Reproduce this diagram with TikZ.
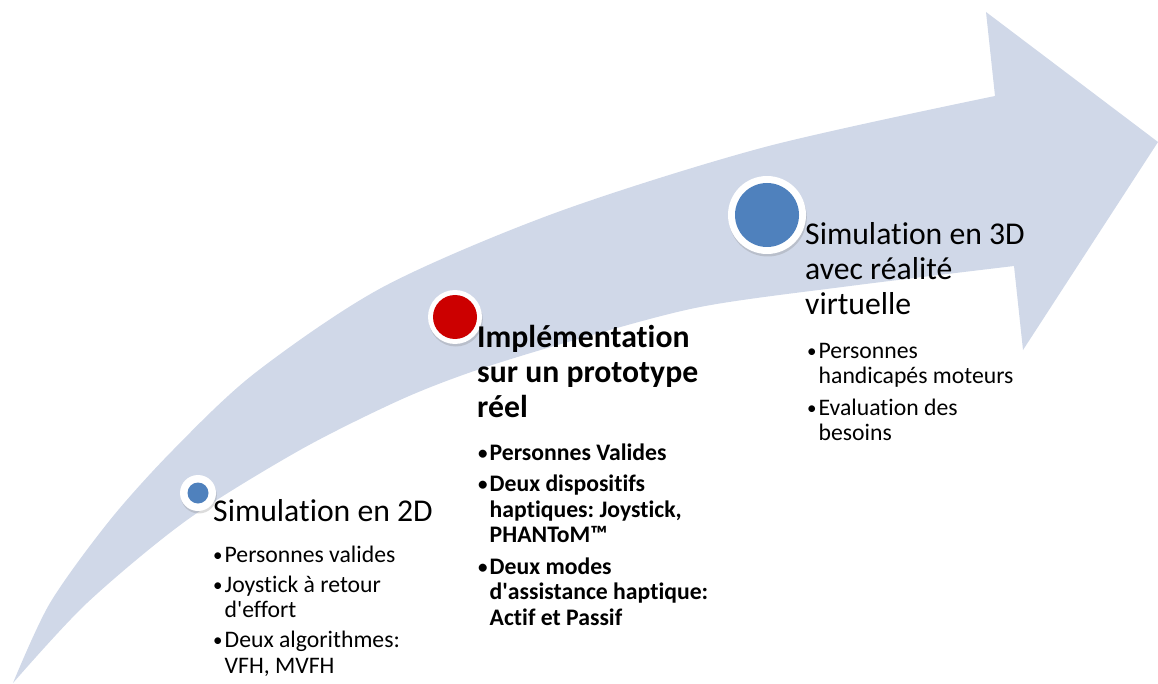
\documentclass[tikz,border=0pt]{standalone}
\usepackage{fontspec}
\setmainfont{Carlito}[Ligatures=NoCommon]
\usetikzlibrary{shadows}
\definecolor{arrowfill}{RGB}{208,216,232}
\definecolor{dotblue}{RGB}{79,129,189}
\definecolor{dotred}{RGB}{204,0,0}
\newcommand{\bul}{\makebox[11.5pt][l]{\raisebox{0.6pt}{\scalebox{0.8}{•}}}}
\newcommand{\apos}{\textquotesingle}
\frenchspacing
\begin{document}
\begin{tikzpicture}[x=1pt,y=-1pt,
  ring/.style={circle, fill=white, inner sep=0pt, drop shadow={shadow xshift=0.8pt, shadow yshift=-2.5pt, opacity=0.28}},
  dot/.style={circle, inner sep=0pt},
  ttl/.style={anchor=base west, inner sep=0pt, font=\fontsize{31.7}{35}\selectfont},
  items/.style={anchor=base west, inner sep=0pt, font=\fontsize{23.7}{25.5}\selectfont}]
\useasboundingbox (0,0) rectangle (1158,684);
% curved arrow
\fill[arrowfill] (13,683)
  -- plot[smooth] coordinates {(13,683) (50,603) (110,520) (173,450) (255,373) (383,287) (555,213) (765,147) (995,96)}
  -- (986,12) -- (1158,142) -- (1023,350) -- (1014,266)
  -- plot[smooth] coordinates {(1014,266) (850,286) (700,307) (575,340) (477,370) (400,400) (300,450) (187,520) (87,603) (13,683)}
  -- cycle;
% markers
\node[ring, minimum size=36pt] (r1) at (198,493) {};
\node[dot, fill=dotblue, minimum size=21pt] (d1) at (r1.center) {};
\node[ring, minimum size=54pt] (r2) at (455,317) {};
\node[dot, fill=dotred, minimum size=44pt] (d2) at (r2.center) {};
\node[ring, minimum size=78pt] (r3) at (767,215) {};
\node[dot, fill=dotblue, minimum size=64pt] (d3) at (r3.center) {};
% texts
\node[ttl] (t1) at (213,521) {\begin{tabular}[t]{@{}l@{}}Simulation en 2D\end{tabular}};
\node[items] (i1) at (213,562) {\begin{tabular}[t]{@{}l@{}l@{}}
\bul & Personnes valides\\[4.5pt]
\bul & Joystick à retour\\
 & d\apos effort\\[4.5pt]
\bul & Deux algorithmes:\\
 & VFH, MVFH
\end{tabular}};
\node[ttl, font=\fontsize{31.7}{35}\selectfont\bfseries] (t2) at (477,347) {\begin{tabular}[t]{@{}l@{}}Implémentation\\ sur un prototype\\ réel\end{tabular}};
\node[items, font=\fontsize{23.7}{25.5}\selectfont\bfseries] (i2) at (478,460) {\begin{tabular}[t]{@{}l@{}l@{}}
\bul & Personnes Valides\\[6pt]
\bul & Deux dispositifs\\
 & haptiques: Joystick,\\
 & PHANToM™\\[6pt]
\bul & Deux modes\\
 & d\apos assistance haptique:\\
 & Actif et Passif
\end{tabular}};
\node[ttl] (t3) at (805,245) {\begin{tabular}[t]{@{}l@{}}Simulation en 3D\\ avec réalité\\ virtuelle\end{tabular}};
\node[items] (i3) at (807,358) {\begin{tabular}[t]{@{}l@{}l@{}}
\bul & Personnes\\
 & handicapés moteurs\\[6pt]
\bul & Evaluation des\\
 & besoins
\end{tabular}};
\end{tikzpicture}
\end{document}
